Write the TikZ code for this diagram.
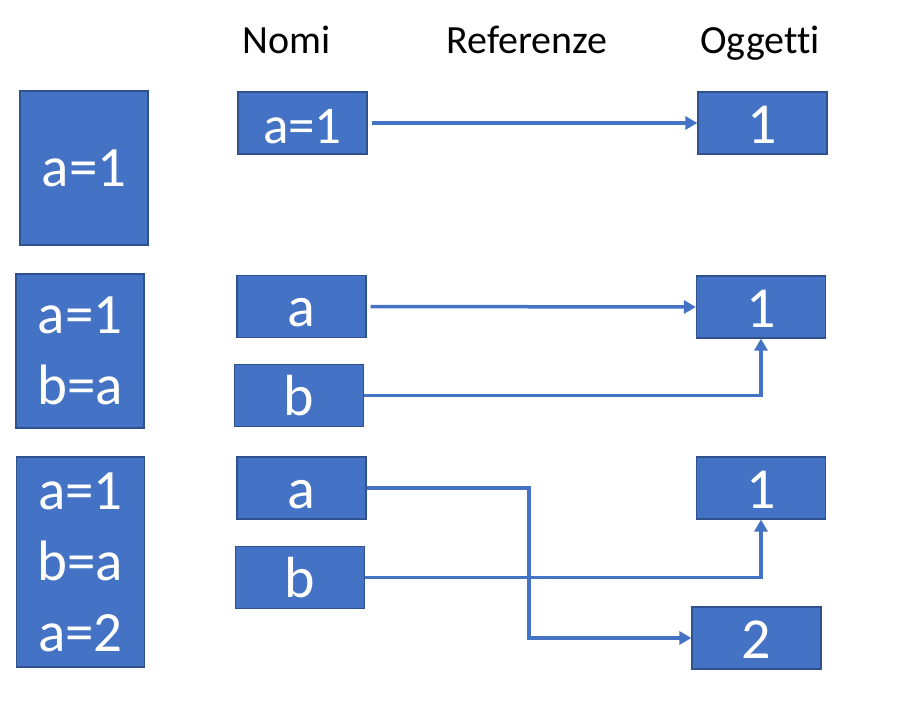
\documentclass[tikz,border=0pt]{standalone}
\usepackage{fontspec}
\setmainfont{Carlito}[Ligatures=NoCommon]
\usetikzlibrary{arrows.meta}
\definecolor{boxblue}{HTML}{4472C4}
\definecolor{boxedge}{HTML}{2F528F}
\begin{document}
\begin{tikzpicture}[x=1pt,y=-1pt,
		box/.style={draw=boxedge,fill=boxblue,line width=1.2pt,text=white,inner sep=0pt,align=center},
		cell/.style={box,minimum width=129pt,minimum height=62pt,text height=40pt,text depth=0pt,font=\fontsize{58}{70}\selectfont},
		code/.style={box,minimum width=128pt,font=\fontsize{57}{71}\selectfont},
		head/.style={anchor=base,font=\fontsize{40}{48}\selectfont},
		link/.style={draw=boxblue,line width=3.5pt,-{Triangle[length=12pt,width=13pt]}}]
	\useasboundingbox (0,0) rectangle (898,710);
	
	\node[head] (nomi) at (287,53) {Nomi};
	\node[head] (ref) at (527,53) {Referenze};
	\node[head] (ogg) at (760,53) {Oggetti};
	
	% step 1
	\node[code,minimum height=154pt] (c1) at (84,168) {a=1};
	\node[cell,font=\fontsize{53}{60}\selectfont] (n1) at (302.5,123) {a=1};
	\node[cell] (o1) at (762.5,123) {1};
	\draw[link,shorten <=4pt] (n1.east) -- (o1.west);
	
	% step 2
	\node[code,minimum height=154pt] (c2) at (80,351) {a=1\\b=a};
	\node[cell] (n2a) at (301.5,306.5) {a};
	\node[cell] (n2b) at (299,395.5) {b};
	\node[cell] (o2) at (761,307) {1};
	\draw[link,shorten <=4pt] (n2a.east) -- (o2.west);
	\draw[link] (n2b.east) -| (o2.south);
	
	% step 3
	\node[code,minimum height=210pt] (c3) at (80.5,562) {a=1\\b=a\\a=2};
	\node[cell] (n3a) at (301.5,488) {a};
	\node[cell] (n3b) at (300,577.5) {b};
	\node[cell] (o3a) at (761,488) {1};
	\node[cell] (o3b) at (756.5,638) {2};
	\coordinate (turn) at (529,0);
	\draw[link] (n3a.east) -| (turn |- o3b.west) -- (o3b.west);
	\draw[link] (n3b.east) -| (o3a.south);
\end{tikzpicture}
\end{document}
